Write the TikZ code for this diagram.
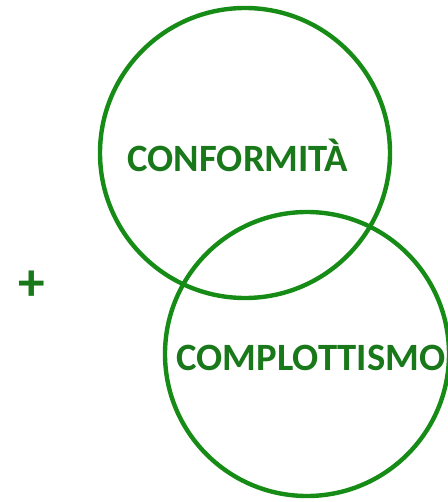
\documentclass[tikz,border=0pt]{standalone}
\usepackage{fontspec}
\setmainfont{Carlito}
\usepackage{tikz}

\definecolor{ringgreen}{RGB}{22,140,22}
\definecolor{textgreen}{RGB}{25,120,25}

\begin{document}
\begin{tikzpicture}[x=0.75pt,y=0.75pt,yscale=-1,xscale=1]
\useasboundingbox (0,0) rectangle (448,502);
\draw [color=ringgreen, line width=3.3pt] (245,153) circle (145);
\draw [color=ringgreen, line width=3.3pt] (307,354) circle (142);
\draw (32,286) node [text=textgreen, font=\bfseries\fontsize{40}{44}\selectfont, inner sep=0pt] (plus) {+};
\draw (238,155) node [text=textgreen, font=\bfseries\fontsize{29}{33}\selectfont, inner sep=0.75pt] (conf) {CONFORMITÀ};
\draw (311,358) node [text=textgreen, font=\bfseries\fontsize{29}{33}\selectfont, inner sep=0.75pt] (compl) {COMPLOTTISMO};
\end{tikzpicture}
\end{document}
